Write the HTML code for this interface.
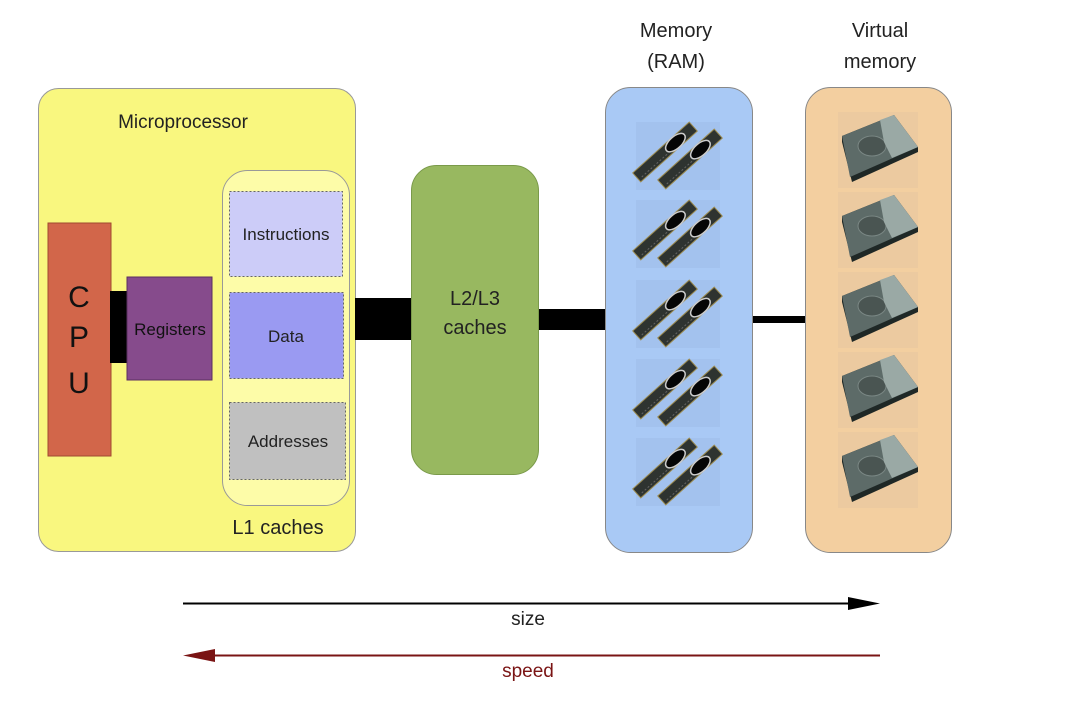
<!DOCTYPE html>
<html><head><meta charset="utf-8"><style>
html,body{margin:0;padding:0;background:#fff;}
svg{display:block;font-family:"Liberation Sans",sans-serif;}
</style></head><body>
<svg width="1072" height="703" viewBox="0 0 1072 703" xmlns="http://www.w3.org/2000/svg">
<defs>
<g id="ram">
  <rect x="-38" y="-6" width="76" height="12" fill="#2e3330" stroke="#9a8a50" stroke-width="1"/>
  <ellipse cx="14" cy="0" rx="12" ry="6" fill="#050505" stroke="#ccc" stroke-width="1.5"/>
  <line x1="-34" y1="3" x2="0" y2="3" stroke="#666" stroke-width="1" stroke-dasharray="2 2"/>
</g>
<g id="rampair">
  <rect x="-42" y="-34" width="84" height="68" fill="#a3c2ee"/>
  <use href="#ram" transform="translate(-13,-4) rotate(-42)"/>
  <use href="#ram" transform="translate(12,3) rotate(-42)"/>
</g>
<g id="disk">
  <rect x="-40" y="-38" width="80" height="76" fill="#eccaa0"/>
  <polygon points="-36,-14 16,-35 40,-3 40,2 -26,32 -36,-8" fill="#1f2826"/>
  <polygon points="-36,-14 16,-35 40,-3 -28,27" fill="#5d6b68"/>
  <ellipse cx="-6" cy="-4" rx="14" ry="10" fill="#4a5552" stroke="#7a8784"/>
  <polygon points="2,-30 16,-35 40,-3 14,8 6,-8" fill="#9aa9a5"/>
</g>
</defs>

<!-- Microprocessor -->
<rect x="38.5" y="88.5" width="317" height="463" rx="20" fill="#f9f77f" stroke="#999" stroke-width="1"/>
<text x="183" y="128" font-size="19" text-anchor="middle" fill="#222">Microprocessor</text>

<rect x="48" y="223" width="63" height="233" fill="#d2664a" stroke="#a04a30" stroke-width="1"/>
<text x="79" y="307" font-size="30" text-anchor="middle" fill="#111">C</text>
<text x="79" y="347" font-size="30" text-anchor="middle" fill="#111">P</text>
<text x="79" y="393" font-size="30" text-anchor="middle" fill="#111">U</text>
<rect x="110" y="291" width="18" height="72" fill="#000"/>
<rect x="127" y="277" width="85" height="103" fill="#864b8c" stroke="#5a2f60" stroke-width="1"/>
<text x="170" y="335" font-size="17" text-anchor="middle" fill="#111">Registers</text>

<rect x="222.5" y="170.5" width="127" height="335" rx="25" fill="#fdfca8" stroke="#999" stroke-width="1"/>
<rect x="229.5" y="191.5" width="113" height="85" fill="#ccccf8" stroke="#666" stroke-dasharray="2 2"/>
<text x="286" y="240" font-size="17" text-anchor="middle" fill="#222">Instructions</text>
<rect x="229.5" y="292.5" width="114" height="86" fill="#9a9af2" stroke="#666" stroke-dasharray="2 2"/>
<text x="286" y="342" font-size="17" text-anchor="middle" fill="#222">Data</text>
<rect x="229.5" y="402.5" width="116" height="77" fill="#c0c0c0" stroke="#666" stroke-dasharray="2 2"/>
<text x="288" y="447" font-size="17" text-anchor="middle" fill="#222">Addresses</text>
<text x="278" y="534" font-size="20" text-anchor="middle" fill="#222">L1 caches</text>

<!-- connectors -->
<rect x="355" y="298" width="57" height="42" fill="#000"/>
<rect x="537" y="309" width="69" height="21" fill="#000"/>
<rect x="751" y="316" width="54" height="7" fill="#000"/>

<!-- L2/L3 -->
<rect x="411.5" y="165.5" width="127" height="309" rx="25" fill="#98b860" stroke="#7a9a4a" stroke-width="1"/>
<text x="475" y="305" font-size="20" text-anchor="middle" fill="#222">L2/L3</text>
<text x="475" y="334" font-size="20" text-anchor="middle" fill="#222">caches</text>

<!-- Memory -->
<text x="676" y="37" font-size="20" text-anchor="middle" fill="#222">Memory</text>
<text x="676" y="68" font-size="20" text-anchor="middle" fill="#222">(RAM)</text>
<rect x="605.5" y="87.5" width="147" height="465" rx="25" fill="#a9c9f5" stroke="#888" stroke-width="1"/>
<use href="#rampair" transform="translate(678,156)"/>
<use href="#rampair" transform="translate(678,234)"/>
<use href="#rampair" transform="translate(678,314)"/>
<use href="#rampair" transform="translate(678,393)"/>
<use href="#rampair" transform="translate(678,472)"/>

<!-- Virtual -->
<text x="880" y="37" font-size="20" text-anchor="middle" fill="#222">Virtual</text>
<text x="880" y="68" font-size="20" text-anchor="middle" fill="#222">memory</text>
<rect x="805.5" y="87.5" width="146" height="465" rx="25" fill="#f3cfa0" stroke="#888" stroke-width="1"/>
<use href="#disk" transform="translate(878,150)"/>
<use href="#disk" transform="translate(878,230)"/>
<use href="#disk" transform="translate(878,310)"/>
<use href="#disk" transform="translate(878,390)"/>
<use href="#disk" transform="translate(878,470)"/>

<!-- arrows -->
<line x1="183" y1="603.5" x2="855" y2="603.5" stroke="#000" stroke-width="2"/>
<polygon points="848,597 880,603.5 848,610" fill="#000"/>
<text x="528" y="625" font-size="19" text-anchor="middle" fill="#222">size</text>
<line x1="205" y1="655.5" x2="880" y2="655.5" stroke="#7a1414" stroke-width="2"/>
<polygon points="215,649 183,655.5 215,662" fill="#7a1414"/>
<text x="528" y="677" font-size="19" text-anchor="middle" fill="#7a1414">speed</text>
</svg>
</body></html>
